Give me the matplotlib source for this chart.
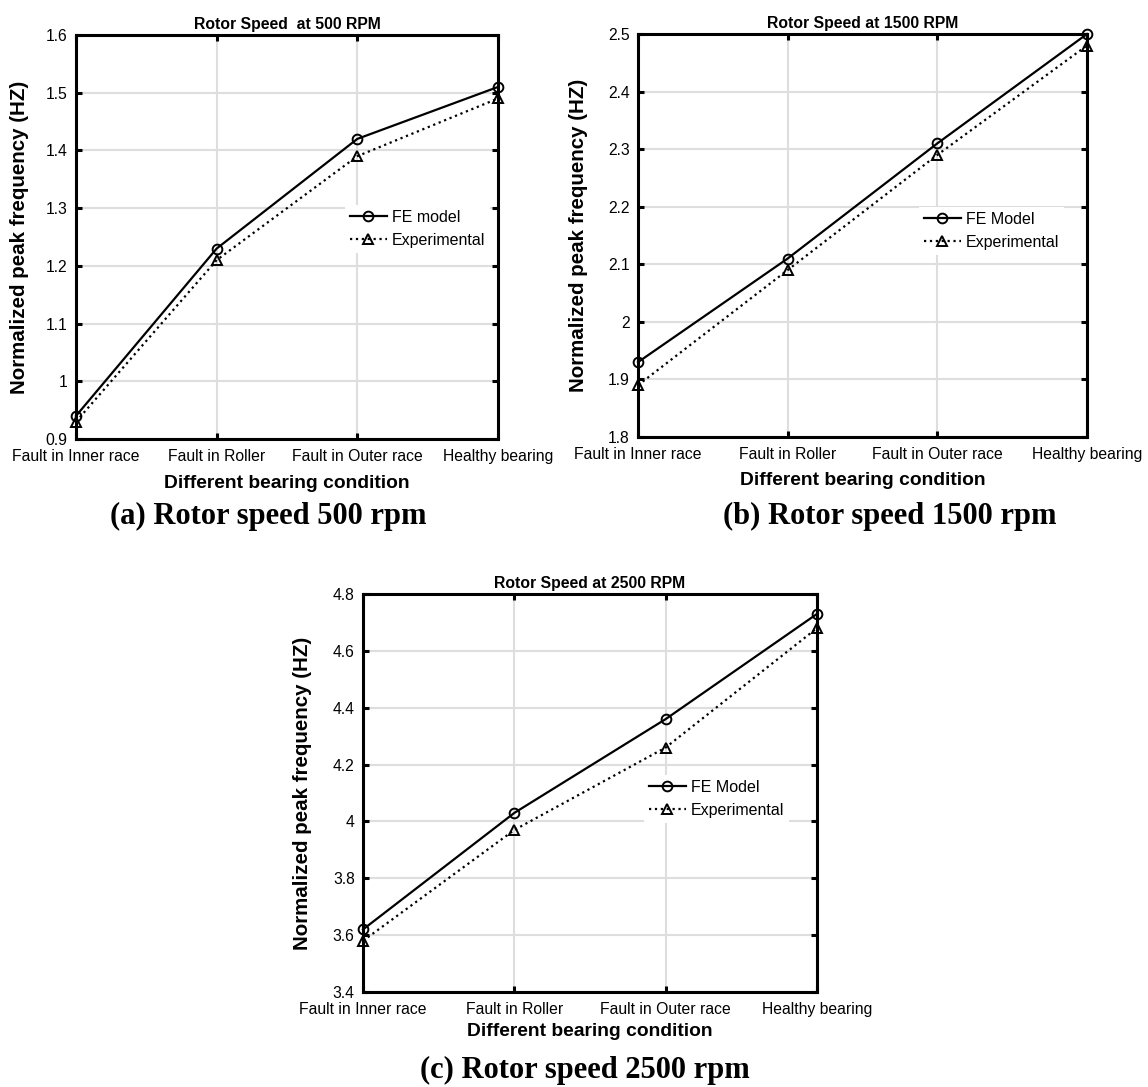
import matplotlib
matplotlib.use("Agg")
import matplotlib.pyplot as plt

plt.rcParams['font.family'] = ['Liberation Sans', 'DejaVu Sans']

conditions = ["Fault in Inner race", "Fault in Roller", "Fault in Outer race", "Healthy bearing"]

fe_500 = [0.94, 1.23, 1.42, 1.51]
exp_500 = [0.93, 1.21, 1.39, 1.49]
fe_1500 = [1.93, 2.11, 2.31, 2.50]
exp_1500 = [1.89, 2.09, 2.29, 2.48]
fe_2500 = [3.62, 4.03, 4.36, 4.73]
exp_2500 = [3.58, 3.97, 4.26, 4.68]

titles = ["Rotor Speed  at 500 RPM", "Rotor Speed at 1500 RPM", "Rotor Speed at 2500 RPM"]
captions = ["(a) Rotor speed 500 rpm", "(b) Rotor speed 1500 rpm", "(c) Rotor speed 2500 rpm"]
fe_labels = ["FE model", "FE Model", "FE Model"]
exp_label = "Experimental"
ylims = [(0.9, 1.6), (1.8, 2.5), (3.4, 4.8)]
yticks = [[0.9, 1.0, 1.1, 1.2, 1.3, 1.4, 1.5, 1.6],
          [1.8, 1.9, 2.0, 2.1, 2.2, 2.3, 2.4, 2.5],
          [3.4, 3.6, 3.8, 4.0, 4.2, 4.4, 4.6, 4.8]]
yticklabels = [["0.9", "1", "1.1", "1.2", "1.3", "1.4", "1.5", "1.6"],
               ["1.8", "1.9", "2", "2.1", "2.2", "2.3", "2.4", "2.5"],
               ["3.4", "3.6", "3.8", "4", "4.2", "4.4", "4.6", "4.8"]]

W, H = 1148, 1087
fig = plt.figure(figsize=(W / 100, H / 100), dpi=100)

# pixel boxes: left, right, top, bottom
boxes = [(76, 498, 35, 439), (638, 1087, 34, 437), (363, 817, 594, 992)]
legend_px = [(345, 205), (919, 207), (644, 775)]   # legend upper-left corner
ylabel_x = [20, 579, 302]
xlabel_y = [483, 481, 1032]
caption_xy = [(268, 516), (890, 516), (585, 1070)]

data = [(fe_500, exp_500), (fe_1500, exp_1500), (fe_2500, exp_2500)]

for i, (l, r, t, b) in enumerate(boxes):
    w, h = r - l, b - t
    ax = fig.add_axes([l / W, 1 - b / H, w / W, h / H])
    x = list(range(len(conditions)))
    fe, ex = data[i]
    ax.plot(x, fe, '-', color='black', lw=1.6, marker='o', ms=7, mfc='none',
            mew=1.4, label=fe_labels[i], clip_on=False, zorder=5)
    ax.plot(x, ex, ':', color='black', lw=1.6, marker='^', ms=7, mfc='none',
            mew=1.4, label=exp_label, clip_on=False, zorder=5)
    ax.set_xlim(0, 3)
    ax.set_ylim(*ylims[i])
    ax.set_xticks(x)
    ax.set_xticklabels(conditions, fontsize=11.3)
    ax.set_yticks(yticks[i])
    ax.set_yticklabels(yticklabels[i], fontsize=11.3)
    ax.grid(True, color='#dedede', lw=1.5)
    ax.set_axisbelow(True)
    for s in ax.spines.values():
        s.set_linewidth(2.2)
    ax.tick_params(direction='in', length=4, width=2.2, top=True, right=True)
    ax.tick_params(axis='x', pad=7)
    ax.tick_params(axis='y', pad=6)
    ax.set_title(titles[i], fontsize=11.3, fontweight='bold', pad=4)
    ax.set_xlabel("Different bearing condition", fontsize=13.9, fontweight='bold')
    ax.xaxis.label.set_va('center')
    ax.xaxis.set_label_coords(0.5, (b - xlabel_y[i]) / h)
    ax.set_ylabel("Normalized peak frequency (HZ)", fontsize=14.8, fontweight='bold')
    ax.yaxis.label.set_va('center')
    ax.yaxis.set_label_coords((ylabel_x[i] - l) / w, 0.5)
    lx, ly = legend_px[i]
    leg = ax.legend(loc='upper left', bbox_to_anchor=((lx - l) / w, (b - ly) / h),
                    frameon=True, fontsize=11.5, handlelength=2.3, handletextpad=0.35,
                    borderpad=0.3, labelspacing=0.5, fancybox=False, borderaxespad=0)
    leg.get_frame().set_edgecolor('none')
    leg.get_frame().set_facecolor('white')
    leg.get_frame().set_alpha(1)
    cx, cy = caption_xy[i]
    fig.text(cx / W, 1 - cy / H, captions[i], ha='center', va='center',
             fontsize=22, fontweight='bold', family=['Liberation Serif', 'DejaVu Serif'])

fig.savefig("out.png", dpi=100, facecolor='white')
